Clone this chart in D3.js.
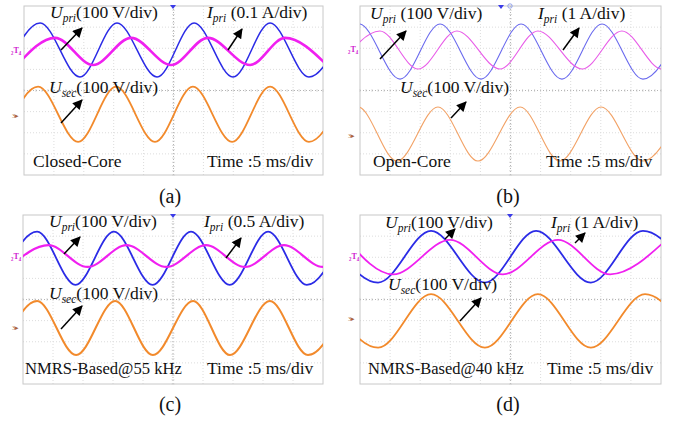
<!DOCTYPE html>
<html>
<head>
<meta charset="utf-8">
<script src="https://cdn.jsdelivr.net/npm/d3@7"></script>
<style>
  body { margin: 0; background: #fff; }
  svg { display: block; }
  text { font-family: "Liberation Serif", "Times New Roman", serif; }
</style>
</head>
<body>
<svg id="chart" width="676" height="422"></svg>
<script>
// Waveform extrema read off the scope screens: [time in div, level in div]
// (a) Closed-Core
const aUpri = [[-0.7,0.64],[0.54,3.2],[1.87,0.64],[3.11,3.2],[4.45,0.64],[5.69,3.2],[6.99,0.64],[8.23,3.2],[9.53,0.64],[10.8,3.2]];
const aIpri = [[-0.23,1.21],[1.04,2.49],[2.31,1.21],[3.58,2.49],[4.92,1.21],[6.15,2.49],[7.56,1.21],[8.73,2.49],[10.13,1.21]];
const aUsec = [[-0.74,-2.43],[0.47,0.18],[1.81,-2.43],[3.08,0.18],[4.38,-2.43],[5.65,0.18],[6.96,-2.43],[8.23,0.18],[9.53,-2.43],[10.8,0.18]];
// (b) Open-Core
const bUpri = [[-1.35,0.54],[-0.03,3.15],[1.33,0.54],[2.66,3.15],[4.02,0.54],[5.35,3.15],[6.71,0.54],[8.04,3.15],[9.4,0.54],[10.73,3.15]];
const bIpri = [[-0.73,1.02],[0.66,2.82],[1.93,1.02],[3.22,2.82],[4.65,1.02],[5.91,2.82],[7.38,1.02],[8.7,2.82],[10.03,1.02],[11.4,2.82]];
const bUsec = [[-1.4,-3.34],[-0.07,-0.78],[1.23,-3.34],[2.59,-0.78],[3.92,-3.34],[5.32,-0.78],[6.64,-3.34],[8.01,-0.78],[9.4,-3.34],[10.73,-0.78]];
// (c) NMRS-Based @ 55 kHz
const cUpri = [[-0.82,0.69],[0.47,3.21],[1.75,0.69],[3.03,3.21],[4.32,0.69],[5.6,3.21],[6.89,0.69],[8.17,3.21],[9.46,0.69],[10.74,3.21]];
const cIpri = [[-0.45,1.54],[0.85,2.57],[2.15,1.54],[3.45,2.57],[4.78,1.54],[6.1,2.57],[7.4,1.54],[8.7,2.57],[10.0,1.54],[11.3,2.57]];
const cUsec = [[-0.8,-2.63],[0.47,-0.07],[1.77,-2.63],[3.07,-0.07],[4.33,-2.63],[5.67,-0.07],[6.9,-2.63],[8.23,-0.07],[9.5,-2.63],[10.8,-0.07]];
// (d) NMRS-Based @ 40 kHz
const dUpri = [[-1.16,3.25],[0.6,0.8],[2.36,3.25],[4.15,0.8],[5.85,3.25],[7.67,0.8],[9.4,3.25],[11.2,0.8]];
const dIpri = [[-0.45,2.82],[1.1,1.19],[2.99,2.82],[4.75,1.19],[6.58,2.82],[8.31,1.19],[10.17,2.82]];
const dUsec = [[-1.16,0.25],[0.6,-2.28],[2.36,0.25],[4.15,-2.28],[5.91,0.25],[7.67,-2.28],[9.47,0.25],[11.2,-2.28]];

// Label texts
const captions = ['(a)', '(b)', '(c)', '(d)'];
const names = ['Closed-Core', 'Open-Core', 'NMRS-Based@55 kHz', 'NMRS-Based@40 kHz'];
const upriScale = ['(100 V/div)', ' (100 V/div)', '(100 V/div)', '(100 V/div)'];
const ipriScale = [' (0.1 A/div)', ' (1 A/div)', ' (0.5 A/div)', ' (1 A/div)'];
const usecScale = ['(100 V/div)', '(100 V/div)', '(100 V/div)', '(100 V/div)'];
const timeLabel = 'Time :5 ms/div';

// Layout of each screen (page pixels)
const panels = [
  { frame: [24, 6, 299, 169], traces: [aUpri, aIpri, aUsec], widths: [1.5, 2.6, 1.8], colors: ['#2b2be6', '#f020f0', '#f28a2c'],
    upri: [50, 18], ipri: [207, 18], usec: [49, 93], name: [33, 167, 17.5], time: [207, 167], cap: [170, 203],
    arrows: [[[61, 50], [82, 28]], [[228, 50], [242, 29]], [[61, 123], [82, 100]]],
    ch2: [11, 53], ch3: [12, 118], top: [173] },
  { frame: [360, 6, 301, 169], traces: [bUpri, bIpri, bUsec], widths: [1.1, 1.1, 1.1], colors: ['#6a6aee', '#e85ce8', '#f2a266'],
    upri: [370, 19], ipri: [538, 19], usec: [400, 93], name: [373, 167, 17.5], time: [546, 167], cap: [508, 203],
    arrows: [[[380, 59], [406, 31]], [[563, 50], [579, 28]], [[451, 118], [466, 102]]],
    ch2: [348, 52], ch3: [348, 138], top: [501, 510] },
  { frame: [23, 215, 300, 169], traces: [cUpri, cIpri, cUsec], widths: [1.8, 2.2, 2.0], colors: ['#2b2be6', '#f020f0', '#f28a2c'],
    upri: [49, 227], ipri: [204, 227], usec: [49, 299], name: [25, 374, 16.6], time: [207, 374], cap: [170, 411],
    arrows: [[[64, 254], [80, 237]], [[226, 258], [241, 238]], [[61, 329], [82, 306]]],
    ch2: [11, 259], ch3: [12, 330], top: [173] },
  { frame: [360, 215, 301, 169], traces: [dUpri, dIpri, dUsec], widths: [1.8, 1.8, 1.8], colors: ['#2b2be6', '#f020f0', '#f28a2c'],
    upri: [385, 228], ipri: [551, 228], usec: [388, 290], name: [368, 374, 16.5], time: [547, 374], cap: [508, 411],
    arrows: [[[445, 239], [455, 229]], [[575, 243], [585, 233]], [[460, 321], [481, 298]]],
    ch2: [349, 259], ch3: [348, 321], top: [510] }
];

const svg = d3.select('#chart');
svg.append('rect').attr('width', 676).attr('height', 422).attr('fill', '#fff');

const defs = svg.append('defs');
defs.append('marker')
  .attr('id', 'head')
  .attr('viewBox', '0 0 10 10')
  .attr('refX', 9).attr('refY', 5)
  .attr('markerWidth', 11).attr('markerHeight', 10)
  .attr('markerUnits', 'userSpaceOnUse')
  .attr('orient', 'auto')
  .append('path').attr('d', 'M0,0L10,5L0,10Z').attr('fill', '#000');

panels.forEach((p, i) => {
  const [fx, fy, fw, fh] = p.frame;
  const x = d3.scaleLinear().domain([0, 10]).range([0, fw]);
  const y = d3.scaleLinear().domain([-4, 4]).range([fh, 0]);

  defs.append('clipPath').attr('id', 'clip' + i)
    .append('rect').attr('width', fw).attr('height', fh);

  const g = svg.append('g').attr('transform', `translate(${fx},${fy})`);

  // dotted graticule
  g.selectAll('.vg').data(d3.range(1, 10)).join('line')
    .attr('x1', d => x(d)).attr('x2', d => x(d)).attr('y1', 0).attr('y2', fh)
    .attr('stroke', d => d === 5 ? '#b4b4b4' : '#dcdcdc')
    .attr('stroke-dasharray', '1,2');
  g.selectAll('.hg').data(d3.range(-3, 4)).join('line')
    .attr('y1', d => y(d)).attr('y2', d => y(d)).attr('x1', 0).attr('x2', fw)
    .attr('stroke', d => d === 0 ? '#b4b4b4' : '#dcdcdc')
    .attr('stroke-dasharray', '1,2');
  // minor ticks on centre lines
  g.selectAll('.tx').data(d3.range(0, 10.01, 0.2)).join('line')
    .attr('x1', d => x(d)).attr('x2', d => x(d))
    .attr('y1', y(0) - 1.5).attr('y2', y(0) + 1.5)
    .attr('stroke', '#c4c4c4').attr('stroke-width', 0.6);
  g.selectAll('.ty').data(d3.range(-4, 4.01, 0.2)).join('line')
    .attr('y1', d => y(d)).attr('y2', d => y(d))
    .attr('x1', x(5) - 1.5).attr('x2', x(5) + 1.5)
    .attr('stroke', '#c4c4c4').attr('stroke-width', 0.6);
  g.append('rect').attr('width', fw).attr('height', fh)
    .attr('fill', 'none').attr('stroke', '#c8c8c8').attr('stroke-width', 1);

  // traces
  const line = d3.line()
    .x(d => x(d[0])).y(d => y(d[1]))
    .curve(d3.curveMonotoneX);
  const tg = g.append('g').attr('clip-path', `url(#clip${i})`);
  p.traces.forEach((t, k) => {
    tg.append('path').datum(t)
      .attr('d', line)
      .attr('fill', 'none')
      .attr('stroke', p.colors[k])
      .attr('stroke-width', p.widths[k]);
  });

  // scope markers
  p.top.forEach((tx, k) => {
    if (k === 0) {
      svg.append('path').attr('d', `M${tx - 3},${fy - 1}L${tx + 3},${fy - 1}L${tx},${fy + 3}Z`).attr('fill', '#3b3be8');
    } else {
      svg.append('circle').attr('cx', tx).attr('cy', fy).attr('r', 2.2)
        .attr('fill', 'none').attr('stroke', '#7a8ee8').attr('stroke-width', 0.8);
    }
  });
  svg.append('text').attr('x', p.ch2[0]).attr('y', p.ch2[1])
    .attr('font-family', 'DejaVu Sans').attr('font-size', 8).attr('font-weight', 'bold')
    .attr('fill', '#d020d0').text('₂T₄');
  svg.append('text').attr('x', p.ch3[0]).attr('y', p.ch3[1])
    .attr('font-family', 'DejaVu Sans').attr('font-size', 6.5)
    .attr('fill', '#a8603a').text('3▸');

  // arrows
  p.arrows.forEach(a => {
    svg.append('line')
      .attr('x1', a[0][0]).attr('y1', a[0][1]).attr('x2', a[1][0]).attr('y2', a[1][1])
      .attr('stroke', '#000').attr('stroke-width', 1.5)
      .attr('marker-end', 'url(#head)');
  });

  // trace labels with subscript
  function sublabel(pos, main, sub, rest) {
    const t = svg.append('text').attr('x', pos[0]).attr('y', pos[1])
      .attr('font-size', 17.5).attr('fill', '#111');
    t.append('tspan').attr('font-style', 'italic').text(main);
    t.append('tspan').attr('font-style', 'italic').attr('font-size', 11.5).attr('dy', 4).text(sub);
    t.append('tspan').attr('dy', -4).style('white-space', 'pre').text(rest);
  }
  sublabel(p.upri, 'U', 'pri', upriScale[i]);
  sublabel(p.ipri, 'I', 'pri', ipriScale[i]);
  sublabel(p.usec, 'U', 'sec', usecScale[i]);

  svg.append('text').attr('x', p.name[0]).attr('y', p.name[1])
    .attr('font-size', p.name[2]).attr('fill', '#111').text(names[i]);
  svg.append('text').attr('x', p.time[0]).attr('y', p.time[1])
    .attr('font-size', 17.5).attr('fill', '#111').text(timeLabel);
  svg.append('text').attr('x', p.cap[0]).attr('y', p.cap[1])
    .attr('text-anchor', 'middle').attr('font-size', 20).attr('fill', '#111').text(captions[i]);
});
</script>
</body>
</html>
